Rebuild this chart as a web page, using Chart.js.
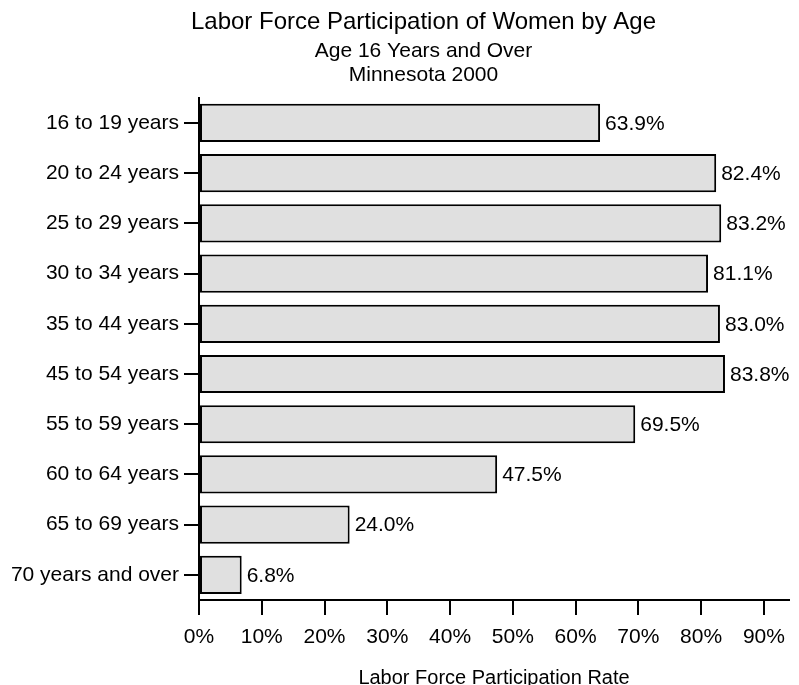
<!DOCTYPE html>
<html>
<head>
<meta charset="utf-8">
<script src="https://cdn.jsdelivr.net/npm/chart.js@4.4.1/dist/chart.umd.min.js"></script>
<style>
  body { margin: 0; background: #fff; }
  #wrap { width: 799px; height: 685px; }
</style>
</head>
<body>
<div id="wrap"><canvas id="laborChart" width="799" height="685"></canvas></div>
<script>
var ageGroups = ['16 to 19 years', '20 to 24 years', '25 to 29 years', '30 to 34 years',
  '35 to 44 years', '45 to 54 years', '55 to 59 years', '60 to 64 years',
  '65 to 69 years', '70 years and over'];
var participation = [63.9, 82.4, 83.2, 81.1, 83.0, 83.8, 69.5, 47.5, 24.0, 6.8];
var xTickStep = 10;
var xMax = 94;

Chart.defaults.font.family = "'Liberation Sans', Arial, sans-serif";
Chart.defaults.color = '#000';

// writes the value next to the end of each bar
var barValues = {
  id: 'barValues',
  afterDatasetsDraw: function(chart) {
    var ctx = chart.ctx;
    ctx.save();
    ctx.font = "21px 'Liberation Sans', Arial, sans-serif";
    ctx.fillStyle = '#000';
    ctx.textAlign = 'left';
    ctx.textBaseline = 'middle';
    chart.getDatasetMeta(0).data.forEach(function(bar, i) {
      ctx.fillText(participation[i].toFixed(1) + '%', bar.x + 5, bar.y + 1);
    });
    ctx.restore();
  }
};

var ctx = document.getElementById('laborChart').getContext('2d');
var myChart = new Chart(ctx, {
  type: 'bar',
  data: {
    labels: ageGroups,
    datasets: [{
      data: participation,
      backgroundColor: '#e0e0e0',
      borderColor: '#000',
      borderWidth: 2,
      borderSkipped: false,
      barPercentage: 0.76,
      categoryPercentage: 1
    }]
  },
  options: {
    indexAxis: 'y',
    responsive: false,
    animation: false,
    // titles in the original sit right of centre: widen the layout on the right
    // and take the extra back with an empty right-hand axis
    layout: { padding: { left: 0, right: -48, top: 0, bottom: 0 } },
    plugins: {
      legend: { display: false },
      tooltip: { enabled: false },
      title: {
        display: true,
        text: 'Labor Force Participation of Women by Age',
        color: '#000',
        font: { size: 24, weight: 'normal', lineHeight: 1.2 },
        padding: { top: 8, bottom: 0 }
      },
      subtitle: {
        display: true,
        text: ['Age 16 Years and Over', 'Minnesota 2000'],
        color: '#000',
        font: { size: 21, weight: 'normal', lineHeight: 1.167 },
        padding: { top: 2, bottom: 10 }
      }
    },
    scales: {
      x: {
        min: 0,
        max: xMax,
        afterFit: function(s) { s.height = 85; },
        border: { display: true, color: '#000', width: 2 },
        grid: { drawOnChartArea: false, color: '#000', lineWidth: 2, tickLength: 15 },
        ticks: {
          stepSize: xTickStep,
          includeBounds: false,
          padding: 10,
          font: { size: 21 },
          callback: function(v) { return v + '%'; }
        },
        title: {
          display: true,
          text: 'Labor Force Participation Rate',
          font: { size: 20, lineHeight: 1.2 },
          padding: { top: 0, bottom: -5 }
        }
      },
      y: {
        afterFit: function(s) { s.width = 199; },
        border: { display: true, color: '#000', width: 2 },
        grid: { drawOnChartArea: false, color: '#000', lineWidth: 2, tickLength: 15, offset: false },
        ticks: { padding: 5, font: { size: 21 } }
      },
      y2: {
        type: 'linear',
        position: 'right',
        afterFit: function(s) { s.width = 58; },
        border: { display: false },
        grid: { display: false },
        ticks: { display: false }
      }
    }
  },
  plugins: [barValues]
});
</script>
</body>
</html>
